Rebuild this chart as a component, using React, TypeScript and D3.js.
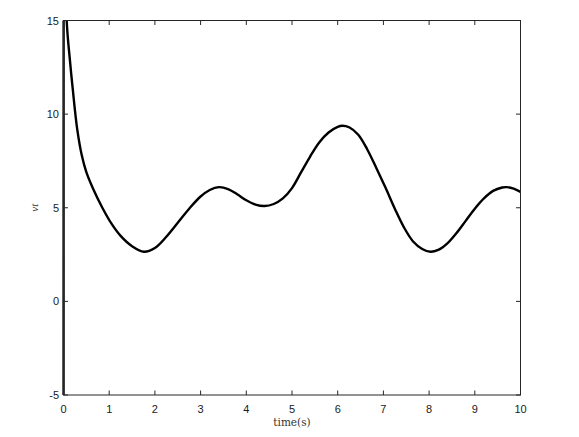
import React from "react";
import * as d3 from "d3";

const timeValues: number[] = [
  0, 0.004, 0.03, 0.07, 0.14, 0.2, 0.3, 0.4, 0.5, 0.65, 0.85, 1.05, 1.25, 1.5, 1.76,
  2.0, 2.25, 2.5, 2.75, 3.0, 3.2, 3.4, 3.6, 3.8, 4.0, 4.2, 4.4, 4.6, 4.8, 5.0, 5.2, 5.4,
  5.6, 5.8, 6.0, 6.1, 6.25, 6.45, 6.65, 6.85, 7.05, 7.25, 7.45, 7.65, 7.85, 8.03, 8.2,
  8.4, 8.6, 8.8, 9.0, 9.2, 9.4, 9.6, 9.7, 9.85, 10,
];
const vtValues: number[] = [
  -30, 40, 24, 15, 12.9, 11.4, 9.2, 7.8, 6.9, 6.0, 5.0, 4.15, 3.5, 2.95, 2.65,
  2.85, 3.45, 4.2, 4.95, 5.6, 5.95, 6.1, 6.0, 5.72, 5.4, 5.17, 5.09, 5.2, 5.5, 6.05, 6.9, 7.75,
  8.5, 9.02, 9.32, 9.38, 9.3, 8.9, 8.1, 7.1, 6.05, 4.95, 3.95, 3.2, 2.8, 2.65, 2.75,
  3.1, 3.65, 4.3, 4.95, 5.5, 5.9, 6.08, 6.1, 6.02, 5.85,
];
const xTicks: number[] = [0, 1, 2, 3, 4, 5, 6, 7, 8, 9, 10];
const yTicks: number[] = [-5, 0, 5, 10, 15];

const W = 579;
const H = 437;
const L = 63.5, R = 520.5, T = 20.5, B = 395;

export default function App() {
  const x = d3.scaleLinear().domain([0, 10]).range([L, R]);
  const y = d3.scaleLinear().domain([-5, 15]).range([B, T]);
  const pts: [number, number][] = timeValues.map((t, i) => [t, vtValues[i]]);
  const spike = d3
    .line<[number, number]>()
    .x((d) => x(d[0]))
    .y((d) => y(d[1]));
  const smooth = d3
    .line<[number, number]>()
    .x((d) => x(d[0]))
    .y((d) => y(d[1]))
    .curve(d3.curveCatmullRom.alpha(0.5));
  const axisColor = "#262626";
  const tickLen = 4.5;
  const font = "'Liberation Sans', Arial, Helvetica, sans-serif";
  return (
    <svg width={W} height={H} style={{ position: "absolute", left: 0, top: 0, background: "#fff" }}>
      <defs>
        <clipPath id="plotClip">
          <rect x={L - 1.5} y={T} width={R - L + 1.5} height={B - T} />
        </clipPath>
      </defs>
      <rect x={0} y={0} width={W} height={H} fill="#fff" />
      <g clipPath="url(#plotClip)">
        <path d={spike(pts.slice(0, 3)) || ""} fill="none" stroke="#000" strokeWidth={2.4} strokeLinejoin="round" />
        <path d={smooth(pts.slice(2)) || ""} fill="none" stroke="#000" strokeWidth={2.4} strokeLinejoin="round" />
      </g>
      <rect x={L} y={T} width={R - L} height={B - T} fill="none" stroke={axisColor} strokeWidth={1} />
      {xTicks.map((t) => (
        <g key={"x" + t}>
          <line x1={x(t)} x2={x(t)} y1={B} y2={B - tickLen} stroke={axisColor} />
          <line x1={x(t)} x2={x(t)} y1={T} y2={T + tickLen} stroke={axisColor} />
          <text x={x(t)} y={413} textAnchor="middle" fontFamily={font} fontSize={11} fill="#1a1a1a">
            {t}
          </text>
        </g>
      ))}
      {yTicks.map((v) => (
        <g key={"y" + v}>
          <line x1={L} x2={L + tickLen} y1={y(v)} y2={y(v)} stroke={axisColor} />
          <line x1={R} x2={R - tickLen} y1={y(v)} y2={y(v)} stroke={axisColor} />
          <text x={59} y={y(v) + 4} textAnchor="end" fontFamily={font} fontSize={11} fill="#1a1a1a">
            {v}
          </text>
        </g>
      ))}
      <text x={292} y={426} textAnchor="middle" fontFamily="'DejaVu Serif', 'Liberation Serif', serif" fontSize={10.5} fill="#333">
        time(s)
      </text>
      <text
        transform={`translate(38,${y(5)}) rotate(-90)`}
        textAnchor="middle"
        fontFamily="'Liberation Serif', serif"
        fontStyle="italic"
        fontSize={11}
        fill="#333"
      >
        vt
      </text>
    </svg>
  );
}
